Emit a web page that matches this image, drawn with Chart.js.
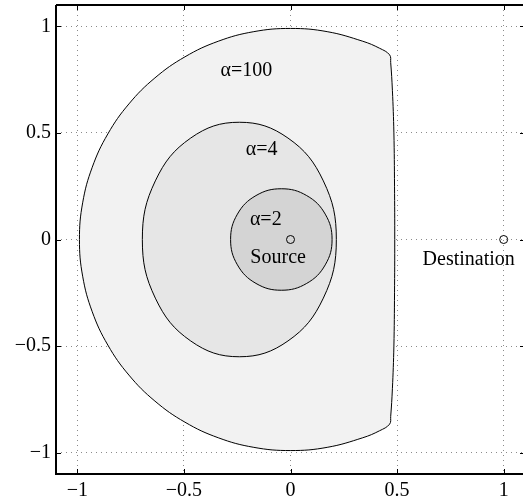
<!DOCTYPE html>
<html>
<head>
<meta charset="utf-8">
<script src="https://cdn.jsdelivr.net/npm/chart.js@4"></script>
<style>
  html, body { margin: 0; padding: 0; background: #fff; overflow: hidden; }
  #wrap { width: 523px; height: 502px; overflow: hidden; }
</style>
</head>
<body>
<div id="wrap"><canvas id="myChart" width="560" height="502"></canvas></div>
<script>
// region boundaries (x, y pairs), each one a closed loop
const alpha100X = [0.489, 0.488, 0.485, 0.478, 0.47, 0.465, 0.418, 0.339, 0.172, 0, -0.172, -0.339, -0.495, -0.636, -0.758, -0.857, -0.93, -0.975, -0.99,
                   -0.975, -0.93, -0.857, -0.758, -0.636, -0.495, -0.339, -0.172, 0, 0.172, 0.339, 0.418, 0.465, 0.47, 0.478, 0.485, 0.488];
const alpha100Y = [0, 0.25, 0.5, 0.7, 0.83, 0.866, 0.897, 0.93, 0.975, 0.99, 0.975, 0.93, 0.857, 0.758, 0.636, 0.495, 0.339, 0.172, 0,
                   -0.172, -0.339, -0.495, -0.636, -0.758, -0.857, -0.93, -0.975, -0.99, -0.975, -0.93, -0.897, -0.866, -0.83, -0.7, -0.5, -0.25];

const alpha4X = [0.215, 0.154, -0.012, -0.24, -0.468, -0.634, -0.695, -0.634, -0.468, -0.24, -0.012, 0.154];
const alpha4Y = [0, 0.275, 0.476, 0.55, 0.476, 0.275, 0, -0.275, -0.476, -0.55, -0.476, -0.275];

const alpha2X = [0.195, 0.163, 0.076, -0.043, -0.162, -0.249, -0.281, -0.249, -0.162, -0.043, 0.076, 0.163];
const alpha2Y = [0, 0.119, 0.206, 0.238, 0.206, 0.119, 0, -0.119, -0.206, -0.238, -0.206, -0.119];

const nodeX = [0, 1];   // Source, Destination
const nodeY = [0, 0];

const labelText = ['α=100', 'α=4', 'α=2', 'Source', 'Destination'];
const labelX = [-0.207, -0.135, -0.116, -0.058, 0.836];
const labelY = [0.79, 0.422, 0.093, -0.087, -0.097];

const tickValues = [-1, -0.5, 0, 0.5, 1];
const tickLabels = ['\u22121', '\u22120.5', '0', '0.5', '1'];

const FONT = '"Liberation Serif", "Times New Roman", serif';

// closed loop: wrap one point on each side so the spline is smooth at the seam
function loopPoints(xs, ys) {
    const pts = xs.map((x, i) => ({x: x, y: ys[i]}));
    const n = pts.length;
    return [pts[n - 1], ...pts, pts[0], pts[1]];
}

function region(xs, ys, fillColor, order) {
    const n = xs.length;
    return {
        data: loopPoints(xs, ys),
        showLine: true,
        fill: 'shape',
        backgroundColor: fillColor,
        borderColor: '#000',
        borderWidth: 1,
        tension: 0.4,
        pointRadius: 0,
        order: order,
        segment: {
            // hide the two wrap-around segments, they are drawn already
            borderColor: c => (c.p0DataIndex === 0 || c.p0DataIndex === n + 1) ? 'rgba(0,0,0,0)' : '#000'
        }
    };
}

// text labels + inward tick marks + frame lines
const decorPlugin = {
    id: 'decor',
    afterDatasetsDraw(chart) {
        const ctx = chart.ctx;
        const xs = chart.scales.x, ys = chart.scales.y;
        ctx.save();
        ctx.fillStyle = '#000';
        ctx.font = '20px ' + FONT;
        ctx.textAlign = 'center';
        ctx.textBaseline = 'middle';
        for (let i = 0; i < labelText.length; i++) {
            ctx.fillText(labelText[i], xs.getPixelForValue(labelX[i]), ys.getPixelForValue(labelY[i]));
        }
        ctx.restore();
    },
    afterDraw(chart) {
        const ctx = chart.ctx;
        const area = chart.chartArea;
        const xs = chart.scales.x, ys = chart.scales.y;
        ctx.save();
        ctx.setLineDash([]);
        ctx.strokeStyle = '#000';
        ctx.lineWidth = 2;
        ctx.beginPath();
        ctx.moveTo(area.left, area.top);
        ctx.lineTo(area.right, area.top);
        ctx.moveTo(area.left, area.top);
        ctx.lineTo(area.left, area.bottom);
        ctx.lineTo(area.right, area.bottom);
        ctx.stroke();
        ctx.lineWidth = 1;
        ctx.beginPath();
        tickValues.forEach(v => {
            const px = Math.round(xs.getPixelForValue(v)) + 0.5;
            ctx.moveTo(px, area.bottom); ctx.lineTo(px, area.bottom - 5);
            ctx.moveTo(px, area.top); ctx.lineTo(px, area.top + 5);
            const py = Math.round(ys.getPixelForValue(v)) + 0.5;
            ctx.moveTo(area.left, py); ctx.lineTo(area.left + 5, py);
            ctx.moveTo(area.right, py); ctx.lineTo(area.right - 5, py);
        });
        ctx.stroke();
        ctx.restore();
    }
};

function axisOptions(isX) {
    return {
        type: 'linear',
        min: -1.1,
        max: 1.1,
        z: 1,
        afterBuildTicks: scale => { scale.ticks = tickValues.map(v => ({value: v})); },
        afterFit: scale => {
            if (isX) scale.height = 28; else scale.width = 56;
            scale.paddingTop = 0;
            scale.paddingBottom = 0;
            scale.paddingLeft = 0;
            scale.paddingRight = 0;
        },
        ticks: {
            color: '#000',
            font: {family: FONT, size: 20},
            padding: 5,
            callback: (value) => tickLabels[tickValues.indexOf(value)]
        },
        grid: {
            color: '#8a8a8a',
            lineWidth: 1,
            drawTicks: false
        },
        border: {
            display: false,
            dash: [1, 4]
        }
    };
}

const ctx = document.getElementById('myChart').getContext('2d');
const chart = new Chart(ctx, {
    type: 'scatter',
    data: {
        datasets: [
            {
                data: nodeX.map((x, i) => ({x: x, y: nodeY[i]})),
                pointStyle: 'circle',
                pointRadius: 4,
                pointBorderWidth: 1,
                pointBackgroundColor: 'rgba(0,0,0,0)',
                pointBorderColor: '#000',
                showLine: false,
                order: 0
            },
            region(alpha2X, alpha2Y, 'rgb(212,212,212)', 1),
            region(alpha4X, alpha4Y, 'rgb(230,230,230)', 2),
            region(alpha100X, alpha100Y, 'rgb(242,242,242)', 3)
        ]
    },
    options: {
        responsive: false,
        animation: false,
        layout: {padding: {top: 5, right: 35, left: 0, bottom: 0}},
        plugins: {
            legend: {display: false},
            tooltip: {enabled: false}
        },
        scales: {
            x: axisOptions(true),
            y: axisOptions(false)
        }
    },
    plugins: [decorPlugin]
});
</script>
</body>
</html>
